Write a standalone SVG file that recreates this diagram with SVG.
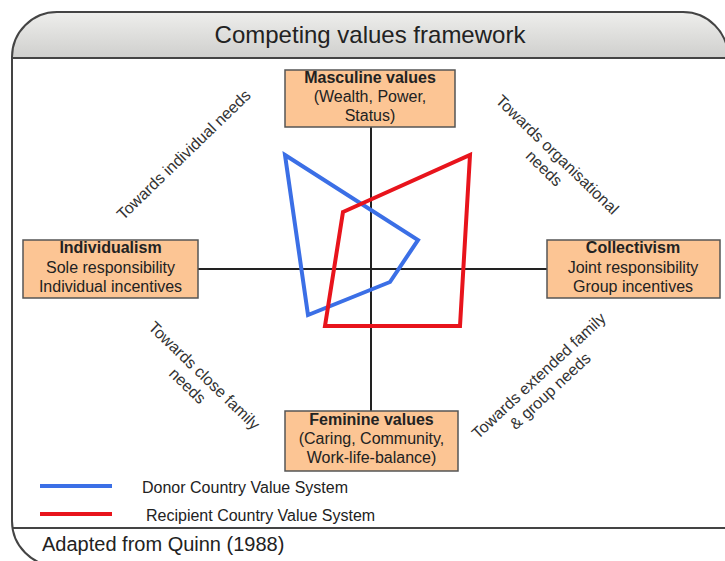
<svg xmlns="http://www.w3.org/2000/svg" width="725" height="561" viewBox="0 0 725 561">
  <defs>
    <linearGradient id="hdr" x1="0" y1="0" x2="0" y2="1">
      <stop offset="0" stop-color="#eeeeec"/>
      <stop offset="1" stop-color="#cfcfcd"/>
    </linearGradient>
  </defs>
  <style>
    .frame { fill: none; stroke: #444; stroke-width: 2; }
    .box { fill: #fcc594; stroke: #555; stroke-width: 1.5; }
    .t { font-family: "Liberation Sans", Arial, sans-serif; fill: #222; }
    .bt { font-size: 16px; text-anchor: middle; }
    .b { font-weight: bold; }
    .diag { font-size: 16px; text-anchor: middle; fill: #333; }
    .axis { stroke: #222; stroke-width: 2; fill: none; }
  </style>
  <rect x="0" y="0" width="725" height="561" fill="#ffffff"/>
  <g id="frame">
    <path d="M12,58 L12,57 A45,45 0 0 1 57,12 L683,12 A45,45 0 0 1 728,57 L728,58 Z" fill="url(#hdr)"/>
    <path class="frame" d="M57,566 A45,45 0 0 1 12,521 L12,57 A45,45 0 0 1 57,12 L683,12 A45,45 0 0 1 728,57 L728,580"/>
    <line class="frame" x1="12" y1="58" x2="728" y2="58"/>
    <line class="frame" x1="12" y1="528" x2="728" y2="528"/>
    <text class="t" x="370" y="43" font-size="24" text-anchor="middle">Competing values framework</text>
    <text class="t" x="42" y="551" font-size="20">Adapted from Quinn (1988)</text>
  </g>
  <g id="connectors">
    <line class="axis" x1="371" y1="127" x2="371" y2="411"/>
    <line class="axis" x1="198" y1="269" x2="547" y2="269"/>
  </g>
  <g id="masculine">
    <rect class="box" x="285" y="70" width="170" height="57"/>
    <text class="t bt b" x="370" y="83">Masculine values</text>
    <text class="t bt" x="370" y="102">(Wealth, Power,</text>
    <text class="t bt" x="370" y="121">Status)</text>
  </g>
  <g id="individualism">
    <rect class="box" x="23" y="240" width="175" height="58"/>
    <text class="t bt b" x="110.5" y="253">Individualism</text>
    <text class="t bt" x="110.5" y="273">Sole responsibility</text>
    <text class="t bt" x="110.5" y="292">Individual incentives</text>
  </g>
  <g id="collectivism">
    <rect class="box" x="547" y="240" width="173" height="58"/>
    <text class="t bt b" x="633" y="253">Collectivism</text>
    <text class="t bt" x="633" y="273">Joint responsibility</text>
    <text class="t bt" x="633" y="292">Group incentives</text>
  </g>
  <g id="feminine">
    <rect class="box" x="285" y="411" width="173" height="60"/>
    <text class="t bt b" x="371.5" y="425">Feminine values</text>
    <text class="t bt" x="371.5" y="444">(Caring, Community,</text>
    <text class="t bt" x="371.5" y="463">Work-life-balance)</text>
  </g>
  <g id="donor-system">
    <polygon points="285,155 418,240 390,282 308,315" fill="none" stroke="#3b6fe6" stroke-width="4" stroke-linejoin="miter"/>
  </g>
  <g id="recipient-system">
    <polygon points="343,212 470,155 460,326 325,326" fill="none" stroke="#e8141c" stroke-width="4" stroke-linejoin="miter"/>
  </g>
  <g id="labels">
    <g transform="translate(184,155) rotate(-44)">
      <text class="t diag" x="0" y="5">Towards individual needs</text>
    </g>
    <g transform="translate(557,155) rotate(44)">
      <text class="t diag" x="0" y="5">Towards organisational</text>
      <text class="t diag" x="0" y="24">needs</text>
    </g>
    <g transform="translate(204,376) rotate(44)">
      <text class="t diag" x="0" y="5">Towards close family</text>
      <text class="t diag" x="-5" y="24">needs</text>
    </g>
    <g transform="translate(539,376) rotate(-43)">
      <text class="t diag" x="0" y="5">Towards extended family</text>
      <text class="t diag" x="-2" y="24">&amp; group needs</text>
    </g>
  </g>
  <g id="legend">
    <line x1="40" y1="486" x2="112" y2="486" stroke="#3b6fe6" stroke-width="4"/>
    <text class="t" x="142" y="493" font-size="16">Donor Country Value System</text>
    <line x1="40" y1="514" x2="112" y2="514" stroke="#e8141c" stroke-width="4"/>
    <text class="t" x="146" y="521" font-size="16">Recipient Country Value System</text>
  </g>
</svg>
